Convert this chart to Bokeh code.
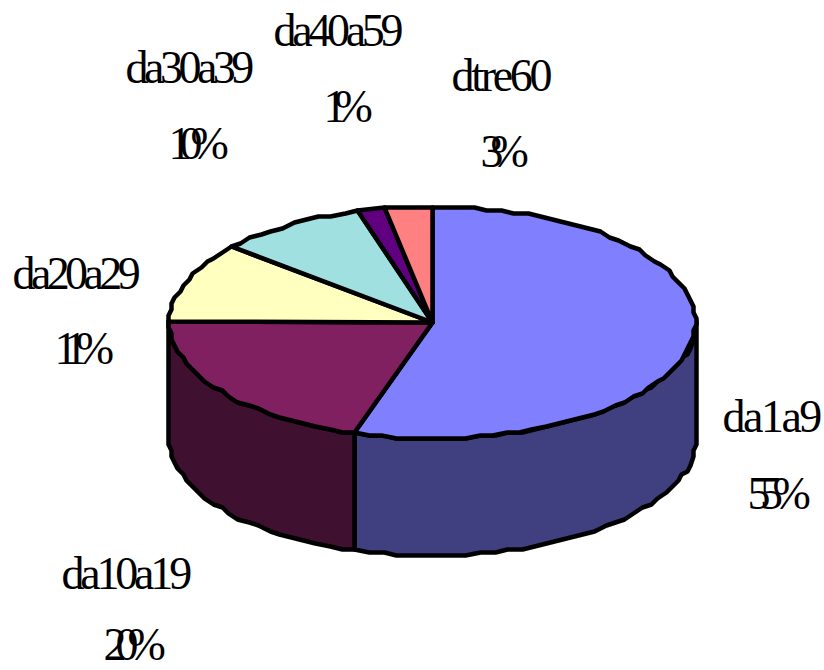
import json
import numpy as np
from bokeh.plotting import figure
from bokeh.models import Range1d
from bokeh.core.properties import value
from bokeh.embed import file_html
from bokeh.resources import INLINE

# data
categories = ["da1a9", "da10a19", "da20a29", "da30a39", "da40a59", "dtre60"]
percent_labels = ["55%", "20%", "11%", "10%", "1%", "3%"]
shares = [54.7, 20.3, 11.2, 9.2, 1.6, 3.0]
top_colors = ["#8080FF", "#802060", "#FFFFC0", "#A0E0E0", "#600080", "#FF8080"]
side_colors = ["#404080", "#401030", "#808060", "#508080", "#400060", "#804040"]

# layout (page pixels)
cx, cy, rx, ry, depth = 432, 322, 263, 116, 117
name_x = [722, 61, 12, 125, 273, 451]
name_y = [433, 590, 290, 84, 47, 92]
pct_x = [747, 103, 54, 168, 323, 480]
pct_y = [510, 661, 365, 160, 123, 168]
name_spacing = [-2.5, -4.2, -4.6, -4.5, -4.3, -3.3]
pct_spacing = [-10.5, -11, -11.5, -12, -12, -13]
GRID = 3

W, H = 824, 670
p = figure(width=W, height=H, output_backend="svg", toolbar_location=None,
           x_range=Range1d(0, W), y_range=Range1d(H, 0),
           min_border=0, outline_line_color=None, background_fill_color="white",
           border_fill_color="white")
p.axis.visible = False
p.grid.visible = False

def rim(a0, a1, dy=0.0, step=3.0):
    n = max(2, int(abs(a1 - a0) / step) + 1)
    t = np.radians(np.linspace(a0, a1, n))
    x = cx + rx * np.sin(t)
    y = cy - ry * np.cos(t)
    x, y = np.round(x / GRID) * GRID, np.round(y / GRID) * GRID
    return x, y + dy

edges = np.concatenate([[0], np.cumsum(shares)]) / np.sum(shares) * 360

for i in range(len(shares)):
    a0, a1 = max(edges[i], 90), min(edges[i + 1], 270)
    if a1 <= a0:
        continue
    tx, ty = rim(a0, a1)
    bx, by = rim(a1, a0, depth)
    p.patch(np.r_[tx, bx], np.r_[ty, by], fill_color=side_colors[i],
            line_color="black", line_width=4.5, line_join="round")

for i in range(len(shares)):
    tx, ty = rim(edges[i], edges[i + 1])
    p.patch(np.r_[cx, tx], np.r_[cy, ty], fill_color=top_colors[i],
            line_color="black", line_width=4.5, line_join="round")

for xs, ys, ts in ((name_x, name_y, categories), (pct_x, pct_y, percent_labels)):
    p.text(xs, ys, text=ts, text_font=value("Liberation Serif"), text_font_size="46px",
           text_align="left", text_baseline="alphabetic", text_color="black", y_offset=-17)

spacing = dict(zip(categories + percent_labels, name_spacing + pct_spacing))
tighten = """<script>
(function(){
  var sp = %s;
  function walk(root){
    root.querySelectorAll('*').forEach(function(e){
      if(e.tagName && e.tagName.toLowerCase()==='text'){
        var s = sp[e.textContent];
        if(s !== undefined){ e.style.letterSpacing = s + 'px'; }
      }
      if(e.shadowRoot){ walk(e.shadowRoot); }
    });
  }
  var n=0, id=setInterval(function(){ walk(document); if(++n>100) clearInterval(id); },50);
})();
</script></body>""" % json.dumps(spacing)
html = file_html(p, INLINE).replace("</body>", tighten)
open("out.html", "w").write(html)
